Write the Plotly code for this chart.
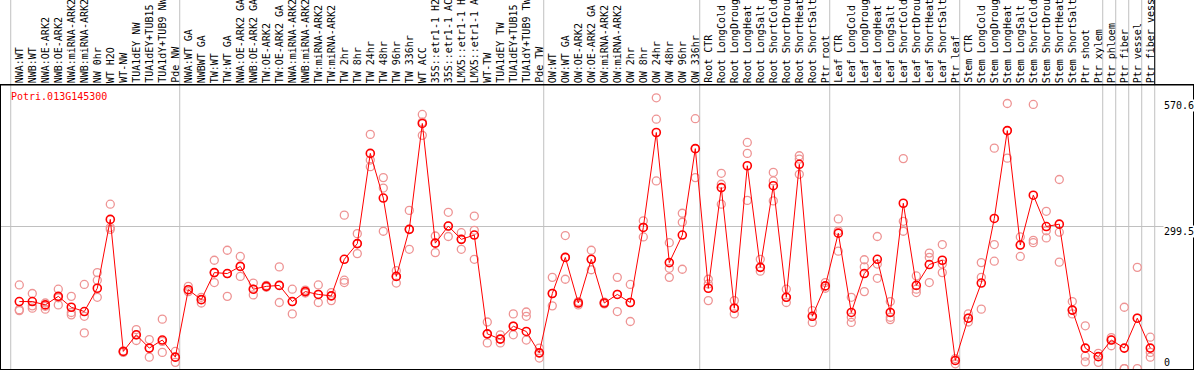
import plotly.graph_objects as go

categories = [
    "NWA:WT", "NWB:WT", "NWA:OE-ARK2", "NWB:OE-ARK2", "NWA:miRNA-ARK2", "NWB:miRNA-ARK2",
    "NW 0hr", "WT H2O", "WT-NW", "TUA1dEY NW", "TUA1dEY+TUB15 NW", "TUA1dY+TUB9 NW", "Pde NW",
    "NWA:WT GA", "NWBWT GA", "TW:WT", "TW:WT GA", "NWA:OE-ARK2 GA", "NWB:OE-ARK2 GA",
    "TW:OE-ARK2", "TW:OE-ARK2 GA", "NWA:miRNA-ARK2", "NWB:miRNA-ARK2", "TW:miRNA-ARK2",
    "TW:miRNA-ARK2", "TW 2hr", "TW 8hr", "TW 24hr", "TW 48hr", "TW 96hr", "TW 336hr",
    "WT ACC", "35S::etr1-1 H2O", "35S::etr1-1 ACC", "LMX5::etr1-1 H2O", "LMX5::etr1-1 ACC",
    "WT-TW", "TUA1dEY TW", "TUA1dEY+TUB15 TW", "TUA1dY+TUB9 TW", "Pde TW",
    "OW:WT", "OW:WT GA", "OW:OE-ARK2", "OW:OE-ARK2 GA", "OW:miRNA-ARK2", "OW:miRNA-ARK2",
    "OW 2hr", "OW 8hr", "OW 24hr", "OW 48hr", "OW 96hr", "OW 336hr",
    "Root CTR", "Root LongCold", "Root LongDrought", "Root LongHeat", "Root LongSalt",
    "Root ShortCold", "Root ShortDrought", "Root ShortHeat", "Root ShortSalt", "Ptr root",
    "Leaf CTR", "Leaf LongCold", "Leaf LongDrought", "Leaf LongHeat", "Leaf LongSalt",
    "Leaf ShortCold", "Leaf ShortDrought", "Leaf ShortHeat", "Leaf ShortSalt", "Ptr leaf",
    "Stem CTR", "Stem LongCold", "Stem LongDrought", "Stem LongHeat", "Stem LongSalt",
    "Stem ShortCold", "Stem ShortDrought", "Stem ShortHeat", "Stem ShortSalt",
    "Ptr shoot", "Ptr xylem", "Ptr phloem", "Ptr fiber", "Ptr vessel", "Ptr fiber vessel",
]

mean_values = [
    142, 142, 135, 153, 130, 121, 170, 315, 37, 72, 44, 61, 25,
    167, 146, 203, 201, 216, 168, 174, 176, 142, 163, 157, 154,
    231, 264, 454, 360, 195, 294, 517, 265, 301, 273, 282, 74, 63, 90, 79, 34,
    159, 235, 139, 231, 139, 157, 140, 298, 498, 224, 282, 464,
    170, 382, 128, 428, 214, 386, 151, 431, 111, 175,
    286, 119, 201, 231, 119, 349, 176, 220, 229, 18,
    107, 181, 317, 502, 261, 366, 300, 305, 124, 44, 26, 61, 44, 107, 44,
]

rep1 = [
    177, 159, 139, 168, 153, 178, 203, 347, 36, 83, 62, 105, 37,
    174, 151, 229, 250, 237, 181, 174, 215, 168, 163, 177, 161,
    324, 285, 494, 403, 207, 334, 536, 280, 330, 287, 322, 99, 72, 116, 120, 44,
    193, 281, 135, 250, 139, 193, 178, 312, 571, 266, 328, 527,
    189, 412, 144, 477, 231, 414, 168, 449, 123, 182,
    316, 151, 230, 279, 142, 443, 196, 244, 262, 22,
    116, 224, 465, 559, 278, 557, 332, 399, 142, 91, 33, 66, 130, 214, 67,
]
rep2 = [
    123, 133, 126, 135, 119, 111, 187, 298, 35, 60, 25, 58, 14,
    163, 139, 182, 153, 195, 156, 172, 140, 116, 160, 140, 144,
    187, 243, 440, 381, 181, 252, 492, 245, 279, 252, 292, 55, 55, 72, 111, 23,
    133, 189, 139, 209, 137, 121, 100, 278, 526, 212, 309, 403,
    179, 389, 116, 454, 206, 396, 140, 442, 98, 170,
    291, 109, 215, 221, 109, 311, 168, 235, 221, 11,
    107, 193, 262, 444, 237, 271, 291, 288, 116, 27, 14, 49, 1, 1, 35,
]
rep3 = [
    125, 128, 132, 150, 114, 76, 151, 294, 38, 72, 44, 35, 25,
    167, 146, 203, 201, 216, 168, 176, 176, 142, 166, 157, 154,
    182, 264, 426, 290, 195, 294, 520, 265, 301, 273, 231, 74, 63, 90, 61, 34,
    159, 235, 142, 231, 141, 157, 140, 298, 396, 193, 210, 464,
    144, 347, 128, 355, 214, 354, 151, 410, 111, 175,
    248, 98, 163, 191, 104, 290, 161, 182, 203, 18,
    99, 126, 227, 502, 261, 266, 276, 225, 124, 15, 26, 61, 1, 107, 25,
]

gene_name = "Potri.013G145300"
y_tick_values = [570.6, 299.5, 0]
y_tick_labels = ["570.6", "299.5", "0"]
group_starts = [0, 13, 41, 53, 63, 73, 84, 85, 86, 87, 88]

FONT = "DejaVu Sans Mono"
idx = list(range(len(categories)))

fig = go.Figure()

# replicate points
rep_x = idx * 3
rep_y = rep1 + rep2 + rep3
fig.add_trace(go.Scatter(
    x=rep_x, y=rep_y, mode="markers",
    marker=dict(symbol="circle-open", size=8, color="#EE9494", line=dict(width=1.3, color="#EE9494")),
    hoverinfo="skip", showlegend=False,
))

# mean line
fig.add_trace(go.Scatter(
    x=idx, y=mean_values, mode="lines+markers",
    line=dict(color="#FF0000", width=1),
    marker=dict(symbol="circle-open", size=8, color="#FF0000", line=dict(width=1.6, color="#FF0000")),
    showlegend=False,
))

shapes = []
for k in group_starts:
    shapes.append(dict(type="line", xref="x", yref="paper", x0=k - 0.66, x1=k - 0.66,
                       y0=0, y1=1.31, line=dict(color="#C0C0C0", width=1), layer="below"))
# black vertical line in the label header at right end
shapes.append(dict(type="line", xref="x", yref="paper", x0=88 - 0.66, x1=88 - 0.66,
                   y0=1, y1=1.31, line=dict(color="black", width=1)))
# full-width horizontal line under the labels
shapes.append(dict(type="line", xref="paper", yref="paper", x0=-0.01, x1=1.01,
                   y0=1, y1=1, line=dict(color="black", width=1)))

annotations = []
for i, c in enumerate(categories):
    annotations.append(dict(
        x=i, y=1, xref="x", yref="paper", text=c, textangle=-90,
        xanchor="center", yanchor="bottom", xshift=0, yshift=0,
        showarrow=False, font=dict(family=FONT, size=10, color="black"),
    ))

annotations.append(dict(
    x=0.007, y=0.958, xref="paper", yref="paper", text=gene_name,
    xanchor="left", yanchor="middle", showarrow=False,
    font=dict(family=FONT, size=10, color="#FF0000"),
))

label_shifts = [-7, -5, 7]
for v, t, s in zip(y_tick_values, y_tick_labels, label_shifts):
    annotations.append(dict(
        x=0.9745, y=v, xref="paper", yref="y", text=t,
        xanchor="left", yanchor="middle", yshift=s, showarrow=False,
        bgcolor="white", borderpad=0,
        font=dict(family=FONT, size=10, color="black"),
    ))

fig.update_layout(
    width=1194, height=370,
    margin=dict(l=1, r=1, t=85, b=1, pad=0),
    paper_bgcolor="white", plot_bgcolor="white",
    shapes=shapes, annotations=annotations,
    xaxis=dict(range=[-1.4077, 90.285], showgrid=False, zeroline=False,
               showticklabels=False, ticks="", showline=True, mirror=True,
               linecolor="black", linewidth=1),
    yaxis=dict(range=[0, 598], tickvals=[299.5], showgrid=True, gridcolor="#C0C0C0",
               gridwidth=1, zeroline=False, showticklabels=False, ticks="",
               showline=True, mirror=True, linecolor="black", linewidth=1),
)

fig.write_html(
    "out.html",
    config={"displayModeBar": False},
    post_script="document.body.style.margin='0';document.body.style.padding='0';document.body.style.overflow='hidden';",
)
